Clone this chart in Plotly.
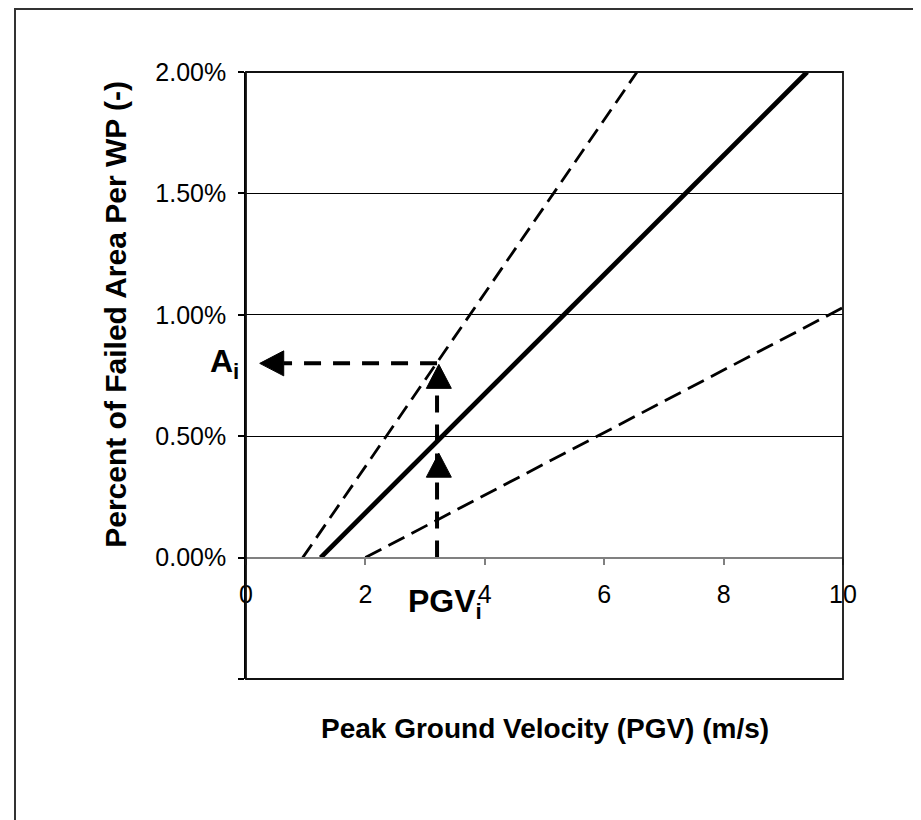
import plotly.graph_objects as go

# ---------------- data ----------------
pgv_mean = [1.25, 9.4]          # solid line (m/s)
area_mean = [0.0, 0.02]
pgv_upper = [0.95, 6.55]        # upper dashed bound
area_upper = [0.0, 0.02]
pgv_lower = [2.0, 10.0]         # lower dashed bound
area_lower = [0.0, 0.0103]

pgv_i = 3.2                     # example PGV_i
a_i = 0.008                     # corresponding A_i
mid_head = 0.0043               # tip of the middle arrowhead on the vertical arrow
a_arrow_tip = 0.23              # tip of horizontal arrowhead (x)

x_ticks = [0, 2, 4, 6, 8, 10]
y_ticks = [-0.005, 0.0, 0.005, 0.01, 0.015, 0.02]
y_ticktext = ["", "0.00%", "0.50%", "1.00%", "1.50%", "2.00%"]

# ---------------- layout constants ----------------
OFF = 8                          # page body margin
W, H = 913, 812
ML, MT = 246 - OFF, 72 - OFF
PW, PH = 597, 607
MR, MB = W - ML - PW, H - MT - PH
XR = [0, 10]
YR = [-0.005, 0.02]
dx = (XR[1] - XR[0]) / PW      # data units per px
dy = (YR[1] - YR[0]) / PH
FONT = "Liberation Sans, Arial, Helvetica, sans-serif"


def px_to_paper_x(px):
    return (px - OFF - ML) / PW


def px_to_paper_y(py):
    return (MT + PH - (py - OFF)) / PH


fig = go.Figure()

# bounds and mean
fig.add_trace(go.Scatter(x=pgv_upper, y=area_upper, mode="lines",
                         line=dict(color="black", width=2.8, dash="16px,8px"),
                         hoverinfo="skip", showlegend=False))
fig.add_trace(go.Scatter(x=pgv_lower, y=area_lower, mode="lines",
                         line=dict(color="black", width=2.8, dash="18px,8px"),
                         hoverinfo="skip", showlegend=False))
fig.add_trace(go.Scatter(x=pgv_mean, y=area_mean, mode="lines",
                         line=dict(color="black", width=4.8),
                         hoverinfo="skip", showlegend=False))

# arrowheads geometry (px sizes)
head_w = 25   # px, base width
head_h = 24   # px, length
top_base = a_i - 1 * dy - head_h * dy
left_base = a_arrow_tip + head_h * dx

# dashed arrow lines
fig.add_trace(go.Scatter(x=[pgv_i, pgv_i], y=[0, top_base], mode="lines",
                         line=dict(color="black", width=4, dash="17px,12px"),
                         hoverinfo="skip", showlegend=False))
fig.add_trace(go.Scatter(x=[pgv_i, left_base], y=[a_i, a_i], mode="lines",
                         line=dict(color="black", width=4, dash="17px,12px"),
                         hoverinfo="skip", showlegend=False))


def up_head(xc, ytip):
    hw = head_w / 2 * dx
    return ([xc - hw, xc + hw, xc, xc - hw],
            [ytip - head_h * dy, ytip - head_h * dy, ytip, ytip - head_h * dy])


def left_head(xtip, yc):
    hh = head_w / 2 * dy
    return ([xtip + head_h * dx, xtip + head_h * dx, xtip, xtip + head_h * dx],
            [yc - hh, yc + hh, yc, yc - hh])


for hx, hy in [up_head(pgv_i + 0.03, mid_head), up_head(pgv_i + 0.03, a_i - 1 * dy),
               left_head(a_arrow_tip, a_i)]:
    fig.add_trace(go.Scatter(x=hx, y=hy, mode="lines", fill="toself",
                             fillcolor="black", line=dict(color="black", width=1),
                             hoverinfo="skip", showlegend=False))

shapes = [
    # plot frame
    dict(type="rect", xref="paper", yref="paper", x0=0, x1=1, y0=0, y1=1,
         line=dict(color="#111", width=1.8), layer="above"),
    # outer chart border
    dict(type="rect", xref="paper", yref="paper",
         x0=px_to_paper_x(15), x1=px_to_paper_x(918),
         y0=px_to_paper_y(870), y1=px_to_paper_y(OFF + 1),
         line=dict(color="#333", width=2)),
]

annotations = [
    dict(text="<b>A<sub>i</sub></b>", x=px_to_paper_x(241), y=a_i,
         xref="paper", yref="y",
         xanchor="right", yanchor="middle", showarrow=False, yshift=0,
         font=dict(family=FONT, size=32, color="black")),
    dict(text="<b>PGV<sub>i</sub></b>", x=pgv_i, y=0, xref="x", yref="y",
         xanchor="center", yanchor="top", showarrow=False, xshift=8, yshift=-23,
         font=dict(family=FONT, size=32, color="black")),
    dict(text="<b>Percent of Failed Area Per WP (-)</b>", x=px_to_paper_x(116),
         y=0.01, xref="paper", yref="y", textangle=-90,
         xanchor="center", yanchor="middle", showarrow=False,
         font=dict(family=FONT, size=30, color="black")),
    dict(text="<b>Peak Ground Velocity (PGV) (m/s)</b>", x=0.5,
         y=px_to_paper_y(728), xref="paper", yref="paper",
         xanchor="center", yanchor="middle", showarrow=False,
         font=dict(family=FONT, size=28, color="black")),
]

fig.update_layout(
    width=W, height=H,
    margin=dict(l=ML, r=MR, t=MT, b=MB, autoexpand=False),
    paper_bgcolor="white", plot_bgcolor="white",
    font=dict(family=FONT, size=25, color="black"),
    shapes=shapes, annotations=annotations,
    xaxis=dict(range=XR, tickvals=x_ticks, ticktext=[str(v) for v in x_ticks],
               anchor="free", position=-YR[0] / (YR[1] - YR[0]),
               showgrid=False, zeroline=False, showline=True,
               linecolor="#808080", linewidth=2,
               ticks="outside", ticklen=6, tickwidth=1.5, tickcolor="#808080",
               ticklabelstandoff=8,
               tickfont=dict(family=FONT, size=25, color="black")),
    yaxis=dict(range=YR, tickvals=y_ticks, ticktext=y_ticktext,
               domain=[0, 1], showgrid=True, gridcolor="black", gridwidth=1,
               zeroline=False, showline=True, linecolor="black", linewidth=1.5,
               ticks="outside", ticklen=6, tickwidth=1.5, tickcolor="black",
               ticklabelstandoff=7,
               tickfont=dict(family=FONT, size=25, color="black")),
)

fig.write_html("out.html")
